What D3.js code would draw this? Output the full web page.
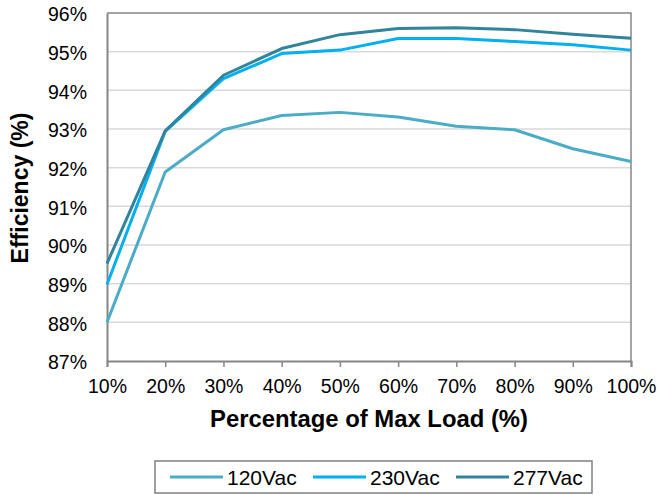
<!DOCTYPE html>
<html>
<head>
<meta charset="utf-8">
<script src="https://cdn.jsdelivr.net/npm/d3@7"></script>
<style>
  html, body { margin: 0; padding: 0; background: #fff; }
  text { font-family: Arial, "Liberation Sans", sans-serif; fill: #000; }
</style>
</head>
<body>
<svg id="chart" width="659" height="495"></svg>
<script>
const loads = [10, 20, 30, 40, 50, 60, 70, 80, 90, 100];
const v120 = [88.00, 91.89, 92.98, 93.35, 93.43, 93.31, 93.07, 92.98, 92.49, 92.16];
const v230 = [88.98, 92.94, 94.30, 94.95, 95.04, 95.34, 95.34, 95.26, 95.18, 95.04];
const v277 = [89.52, 92.95, 94.39, 95.08, 95.44, 95.60, 95.62, 95.57, 95.45, 95.35];
const seriesNames = ["120Vac", "230Vac", "277Vac"];
const seriesColors = ["#4BACC6", "#00B0F0", "#31849B"];
const yTicks = [87, 88, 89, 90, 91, 92, 93, 94, 95, 96];
const xLabel = "Percentage of Max Load (%)";
const yLabel = "Efficiency (%)";

const series = [v120, v230, v277];
const svg = d3.select("#chart");
const L = 107, R = 631, T = 13, B = 361;

const x = d3.scaleLinear().domain([10, 100]).range([L, R]);
const y = d3.scaleLinear().domain([87, 96]).range([B, T]);

// gridlines
svg.append("g").selectAll("line")
  .data(yTicks.filter(d => d > 87 && d < 96))
  .join("line")
  .attr("x1", L).attr("x2", R)
  .attr("y1", d => y(d)).attr("y2", d => y(d))
  .attr("stroke", "#d9d9d9").attr("stroke-width", 1.5);

// plot frame (top & right)
svg.append("path")
  .attr("d", `M${L},${T}H${R}V${B}`)
  .attr("fill", "none").attr("stroke", "#868686").attr("stroke-width", 1.5);

// x axis
const xAxis = d3.axisBottom(x).tickValues(loads).tickSize(6).tickPadding(12)
  .tickFormat(d => d + "%");
const gx = svg.append("g").attr("transform", `translate(0,${B})`).call(xAxis);
gx.select(".domain").attr("stroke", "#868686").attr("stroke-width", 2);
gx.selectAll(".tick line").attr("stroke", "#868686").attr("stroke-width", 1.5);
gx.selectAll(".tick text").attr("font-size", 19.5).attr("fill", "#000")
  .attr("font-family", "Arial, 'Liberation Sans', sans-serif");

// y axis
const yAxis = d3.axisLeft(y).tickValues(yTicks).tickSize(0).tickPadding(20)
  .tickFormat(d => d + "%");
const gy = svg.append("g").attr("transform", `translate(${L},0)`).call(yAxis);
gy.select(".domain").attr("stroke", "#868686").attr("stroke-width", 2);
gy.selectAll(".tick text").attr("font-size", 19.5).attr("fill", "#000")
  .attr("dy", "0.4em")
  .attr("font-family", "Arial, 'Liberation Sans', sans-serif");

// lines
const line = d3.line().x((d, i) => x(loads[i])).y(d => y(d));
svg.append("g").selectAll("path")
  .data(series)
  .join("path")
  .attr("d", d => line(d))
  .attr("fill", "none")
  .attr("stroke", (d, i) => seriesColors[i])
  .attr("stroke-width", 3)
  .attr("stroke-linejoin", "round");

// axis titles
svg.append("text")
  .attr("x", (L + R) / 2).attr("y", 427)
  .attr("text-anchor", "middle")
  .attr("font-size", 23).attr("font-weight", "bold")
  .attr("textLength", 318).attr("lengthAdjust", "spacingAndGlyphs")
  .text(xLabel);

svg.append("text")
  .attr("transform", `translate(28,${(T + B) / 2 + 1}) rotate(-90)`)
  .attr("text-anchor", "middle")
  .attr("font-size", 23).attr("font-weight", "bold")
  .text(yLabel);

// legend
const lg = svg.append("g");
lg.append("rect")
  .attr("x", 155).attr("y", 461).attr("width", 437).attr("height", 32)
  .attr("fill", "#fff").attr("stroke", "#808080").attr("stroke-width", 1.5);
const itemX = [170, 313, 456];
seriesNames.forEach((name, i) => {
  lg.append("line")
    .attr("x1", itemX[i]).attr("x2", itemX[i] + 53)
    .attr("y1", 477).attr("y2", 477)
    .attr("stroke", seriesColors[i]).attr("stroke-width", 3);
  lg.append("text")
    .attr("x", itemX[i] + 57).attr("y", 484.5)
    .attr("font-size", 21)
    .text(name);
});
</script>
</body>
</html>
